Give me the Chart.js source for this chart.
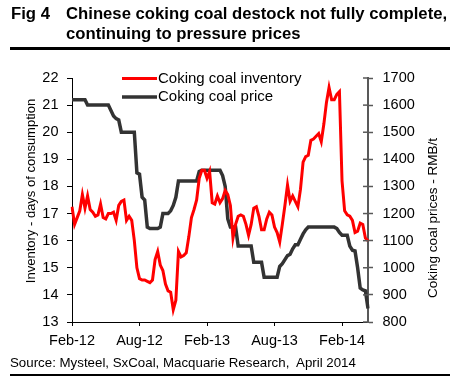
<!DOCTYPE html>
<html><head><meta charset="utf-8">
<script src="https://cdn.jsdelivr.net/npm/chart.js@4"></script>
<style>
html,body{margin:0;padding:0;background:#fff;}
#wrap{position:relative;width:450px;height:383px;overflow:hidden;font-family:"Liberation Sans",Arial,sans-serif;color:#000}
canvas{position:absolute;left:0;top:0}
.t{position:absolute;font-weight:bold;font-size:16.7px;line-height:20px;white-space:nowrap}
.rule{position:absolute;left:10px;width:440px;height:2.5px;background:#000}
.src{position:absolute;left:10px;top:355px;font-size:13.3px;line-height:16px;white-space:nowrap}
</style></head><body>
<div id="wrap">
<canvas id="c" width="450" height="383"></canvas>
<div class="t" style="left:11px;top:4px">Fig 4</div>
<div class="t" style="left:66px;top:4px">Chinese coking coal destock not fully complete,<br>continuing to pressure prices</div>
<div class="rule" style="top:47px"></div>
<div class="src">Source: Mysteel, SxCoal, Macquarie Research,&nbsp; April 2014</div>
<div class="rule" style="top:373.5px"></div>
</div>
<script>
// Weekly data, first week ending 3 Feb 2012
const inventory = [
17.25,16.6,16.85,17.1,17.7,17.2,17.65,17.15,17.05,16.9,
16.95,17.35,16.85,16.8,17.0,17.0,17.05,16.75,17.3,17.45,
17.5,16.75,16.9,16.75,16.0,15.0,14.6,14.55,14.55,14.5,
14.45,14.55,15.3,15.6,15.1,14.9,14.4,14.15,14.1,13.45,
13.8,15.6,15.4,15.45,15.55,16.15,16.85,17.15,17.5,18.3,
18.6,18.6,18.3,18.55,17.4,17.35,17.65,17.4,17.55,17.85,
17.7,17.3,16.1,16.6,16.9,16.95,16.9,16.6,16.2,16.6,
17.2,17.25,16.9,16.4,16.4,16.8,17.05,16.95,16.5,16.3,
15.95,16.6,17.3,18.05,17.45,17.65,17.45,17.25,17.9,18.9,
19.1,19.15,19.7,19.75,19.85,19.95,19.65,20.3,21.1,21.65,
21.2,21.2,21.4,21.5,18.2,17.1,16.95,16.9,16.75,16.3,
16.35,16.65,16.6,16.1,16.0
];
const price = [
1620,1620,1620,1620,1620,1620,1600,1600,1600,1600,
1600,1600,1600,1600,1600,1580,1560,1550,1545,1500,
1500,1500,1500,1500,1500,1350,1345,1260,1250,1150,
1145,1145,1145,1145,1150,1200,1200,1200,1210,1230,
1260,1320,1320,1320,1320,1320,1320,1320,1320,1355,
1360,1360,1360,1360,1360,1360,1360,1360,1340,1300,
1180,1150,1150,1150,1080,1080,1080,1080,1080,1080,
1020,1020,1020,1020,965,965,965,965,965,965,
1005,1015,1030,1045,1050,1070,1085,1085,1105,1125,
1140,1150,1150,1150,1150,1150,1150,1150,1150,1150,
1150,1150,1145,1130,1120,1120,1120,1080,1065,1062,
1000,925,918,915,850
];
const tickIndex = [0, 26, 52, 78, 104];
const tickLabels = ['Feb-12', 'Aug-12', 'Feb-13', 'Aug-13', 'Feb-14'];
const seriesNames = ['Coking coal inventory', 'Coking coal price'];
const leftTitle = 'Inventory - days of consumption';
const rightTitle = 'Coking coal prices - RMB/t';

const weeks = inventory.map((_, i) => new Date(Date.UTC(2012, 1, 3) + i * 7 * 864e5).toISOString().slice(0, 10));

const FONT = '"Liberation Sans", Arial, sans-serif';

const decor = {
  id: 'decor',
  afterDraw(chart) {
    const ctx = chart.ctx;
    ctx.save();
    const y1 = chart.scales.y1;
    ctx.strokeStyle = '#595959'; ctx.lineWidth = 1.5;
    y1.ticks.forEach(t => {
      const py = y1.getPixelForValue(t.value);
      ctx.beginPath(); ctx.moveTo(y1.left - 5, py); ctx.lineTo(y1.left, py); ctx.stroke();
    });
    ctx.font = '15px ' + FONT; ctx.textBaseline = 'middle'; ctx.textAlign = 'left'; ctx.fillStyle = '#000';
    chart.data.datasets.forEach((ds, k) => {
      const ly = 78.5 + k * 18.5;
      ctx.strokeStyle = ds.borderColor; ctx.lineWidth = ds.borderWidth;
      ctx.beginPath(); ctx.moveTo(122, ly); ctx.lineTo(157, ly); ctx.stroke();
      ctx.fillText(ds.label, 158, ly);
    });
    ctx.textAlign = 'center';
    ctx.save(); ctx.translate(31.5, 191); ctx.rotate(-Math.PI / 2);
    ctx.font = '13px ' + FONT; ctx.fillText(leftTitle, 0, 0); ctx.restore();
    ctx.save(); ctx.translate(433, 218); ctx.rotate(-Math.PI / 2);
    ctx.font = '13.5px ' + FONT; ctx.fillText(rightTitle, 0, 0); ctx.restore();
    ctx.restore();
  }
};

const tickFont = {family: FONT, size: 14.5};

new Chart(document.getElementById('c'), {
  type: 'line',
  data: {
    labels: weeks,
    datasets: [
      {label: seriesNames[0], data: inventory, yAxisID: 'y', borderColor: '#FF0000', borderWidth: 3, pointRadius: 0, tension: 0},
      {label: seriesNames[1], data: price, yAxisID: 'y1', borderColor: '#333333', borderWidth: 3.5, pointRadius: 0, tension: 0}
    ]
  },
  options: {
    responsive: false, animation: false, devicePixelRatio: 1,
    layout: {padding: {top: 78, left: 0, right: 0, bottom: 0}},
    plugins: {legend: {display: false}, tooltip: {enabled: false}},
    scales: {
      x: {
        type: 'category',
        grid: {display: true, drawOnChartArea: false, drawTicks: true, tickLength: 4, tickColor: '#000', tickWidth: 1},
        border: {display: true, color: '#000', width: 1},
        ticks: {autoSkip: false, maxRotation: 0, minRotation: 0, padding: 6, color: '#000', font: tickFont,
          callback: (v, i) => { const k = tickIndex.indexOf(i); return k >= 0 ? tickLabels[k] : null; }},
        afterFit(s) { s.height = 61; s.paddingLeft = 0; s.paddingRight = 0; }
      },
      y: {
        position: 'left', min: 13, max: 22,
        ticks: {stepSize: 1, padding: 8.5, color: '#000', font: tickFont, callback: v => String(v)},
        grid: {drawOnChartArea: false, tickLength: 5, tickColor: '#000', tickWidth: 1},
        border: {color: '#000', width: 1},
        afterFit(s) { s.width = 72; s.paddingTop = 0; s.paddingBottom = 0; }
      },
      y1: {
        position: 'right', min: 800, max: 1700,
        ticks: {stepSize: 100, padding: 9.5, color: '#000', font: tickFont, callback: v => String(v)},
        grid: {drawOnChartArea: false, tickLength: 5, tickColor: '#595959', tickWidth: 1.5},
        border: {color: '#595959', width: 2},
        afterFit(s) { s.width = 82; s.paddingTop = 0; s.paddingBottom = 0; }
      }
    }
  },
  plugins: [decor]
});
</script>
</body></html>
